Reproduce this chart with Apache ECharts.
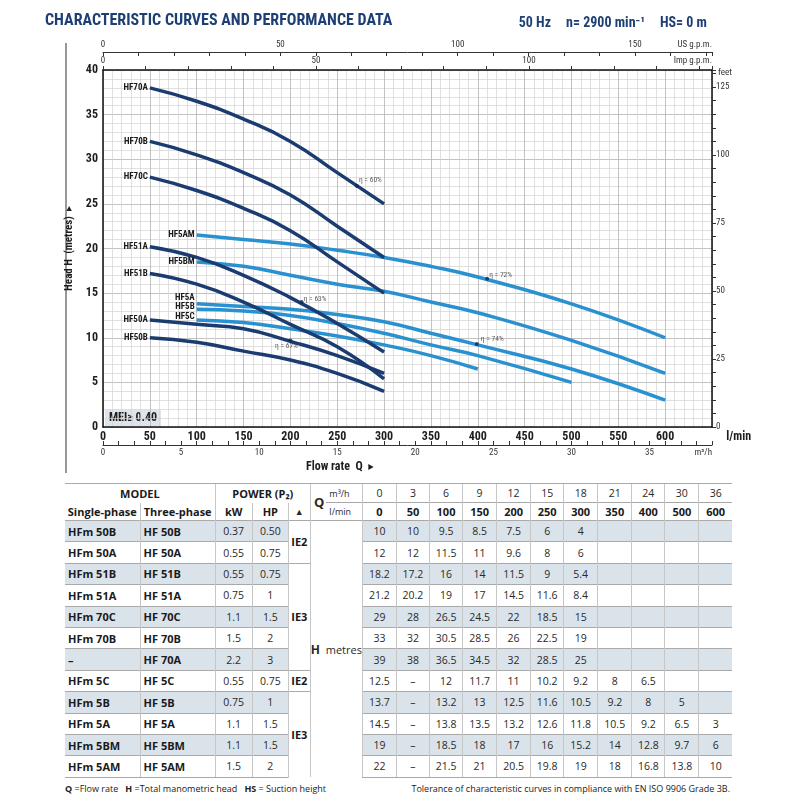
<!DOCTYPE html>
<html>
<head>
<meta charset="utf-8">
<script src="https://cdn.jsdelivr.net/npm/echarts@6/dist/echarts.min.js"></script>
<style>
  body { margin: 0; background: #fff; width: 800px; height: 800px; position: relative; overflow: hidden; font-family: 'Open Sans', sans-serif; }
  #chart { position: absolute; left: 0; top: 0; width: 800px; height: 480px; }
  #perf { position: absolute; left: 65px; top: 483px; width: 667px; border-collapse: collapse; table-layout: fixed; font-size: 10.5px; color: #2a2a2a; }
  #perf td { padding: 0; text-align: center; border-left: 1px solid #c6c6c6; border-top: 1.5px solid #a9a9a9; white-space: nowrap; overflow: hidden; }
  #perf td:first-child { border-left: none; }
  #perf tr.h1 { height: 19px; }
  #perf tr.h2 { height: 18px; }
  #perf tr.h2 td.nl { border-top: none; }
  #perf tr.d { height: 21.4px; }
  #perf tr.d td.m { text-align: left; padding-left: 3px; font-weight: bold; color: #1a1a1a; font-size: 11px; }
  #perf tr.sh td { background: #dbe3ea; }
  #perf tr.d:last-child td { border-bottom: 1.5px solid #a9a9a9; }
  #perf td.w { background: #fff !important; font-weight: bold; font-size: 11px; color: #1a1a1a; }
  #perf td.b { font-weight: bold; color: #1a1a1a; font-size: 11px; }
  #perf td.q { font-weight: bold; font-size: 13px; border-right: none; text-align: right; padding-right: 2px; }
  #perf td.u { font-size: 9px; text-align: left; padding-left: 3px; border-left: none; }
  #perf td.hm { background: #fff !important; font-size: 11px; }
  .foot { position: absolute; top: 782px; font-size: 9px; color: #222; }
</style>
</head>
<body>
<div id="chart"></div>
<table id="perf"></table>
<div class="foot" style="left:65px"><b>Q</b> =Flow rate &nbsp;&nbsp;<b>H</b> =Total manometric head &nbsp;&nbsp;<b>HS</b> = Suction height</div>
<div class="foot" style="right:70px">Tolerance of characteristic curves in compliance with EN ISO 9906 Grade 3B.</div>
<script>
// flow points of the table (and of the curves)
var flowM3h = [0, 3, 6, 9, 12, 15, 18, 21, 24, 30, 36];
var flowLmin = [0, 50, 100, 150, 200, 250, 300, 350, 400, 500, 600];

var curveNames = ['HF50B', 'HF50A', 'HF51B', 'HF51A', 'HF70C', 'HF70B', 'HF70A', 'HF5C', 'HF5B', 'HF5A', 'HF5BM', 'HF5AM'];
var singlePhase = ['HFm 50B', 'HFm 50A', 'HFm 51B', 'HFm 51A', 'HFm 70C', 'HFm 70B', '–', 'HFm 5C', 'HFm 5B', 'HFm 5A', 'HFm 5BM', 'HFm 5AM'];
var threePhase = ['HF 50B', 'HF 50A', 'HF 51B', 'HF 51A', 'HF 70C', 'HF 70B', 'HF 70A', 'HF 5C', 'HF 5B', 'HF 5A', 'HF 5BM', 'HF 5AM'];
var powerKW = ['0.37', '0.55', '0.55', '0.75', '1.1', '1.5', '2.2', '0.55', '0.75', '1.1', '1.1', '1.5'];
var powerHP = ['0.50', '0.75', '0.75', '1', '1.5', '2', '3', '0.75', '1', '1.5', '1.5', '2'];
var ieClass = ['IE2', 'IE3', 'IE2', 'IE3'];
var ieRows = [2, 5, 1, 4];

// head H (metres) at each flow, '–' = not available, null = empty cell
var headHF50B = [10, 10, 9.5, 8.5, 7.5, 6, 4, null, null, null, null];
var headHF50A = [12, 12, 11.5, 11, 9.6, 8, 6, null, null, null, null];
var headHF51B = [18.2, 17.2, 16, 14, 11.5, 9, 5.4, null, null, null, null];
var headHF51A = [21.2, 20.2, 19, 17, 14.5, 11.6, 8.4, null, null, null, null];
var headHF70C = [29, 28, 26.5, 24.5, 22, 18.5, 15, null, null, null, null];
var headHF70B = [33, 32, 30.5, 28.5, 26, 22.5, 19, null, null, null, null];
var headHF70A = [39, 38, 36.5, 34.5, 32, 28.5, 25, null, null, null, null];
var headHF5C = [12.5, '–', 12, 11.7, 11, 10.2, 9.2, 8, 6.5, null, null];
var headHF5B = [13.7, '–', 13.2, 13, 12.5, 11.6, 10.5, 9.2, 8, 5, null];
var headHF5A = [14.5, '–', 13.8, 13.5, 13.2, 12.6, 11.8, 10.5, 9.2, 6.5, 3];
var headHF5BM = [19, '–', 18.5, 18, 17, 16, 15.2, 14, 12.8, 9.7, 6];
var headHF5AM = [22, '–', 21.5, 21, 20.5, 19.8, 19, 18, 16.8, 13.8, 10];
var headRows = [headHF50B, headHF50A, headHF51B, headHF51A, headHF70C, headHF70B, headHF70A,
                headHF5C, headHF5B, headHF5A, headHF5BM, headHF5AM];

// efficiency marks
var effFlow = [271, 212, 200, 410, 399];
var effHead = [27.0, 14.0, 9.7, 16.6, 9.3];
var effText = ['η = 60%', 'η = 63%', 'η = 67%', 'η = 72%', 'η = 74%'];

var chartFont = "'Roboto Condensed','Liberation Sans Narrow','DejaVu Sans Condensed',Roboto,sans-serif";
var darkBlue = '#1b3c70';
var lightBlue = '#2a91d1';
var labelOffsets = { HF5A: [0, -6], HF5B: [0, -2], HF5C: [0, -3] };
var effLabel = [
  { position: 'right', offset: [-2, -6] },
  { position: 'right', offset: [-2, -3] },
  { position: 'bottom', offset: [-4, -2] },
  { position: 'right', offset: [-2, -4] },
  { position: 'right', offset: [0, -5] }
];

var series = [];
var order = [7, 8, 9, 10, 11, 0, 1, 2, 3, 4, 5, 6];   // light curves under the dark ones
order.forEach(function (i) {
  var pts = [];
  flowLmin.forEach(function (q, j) {
    var h = headRows[i][j];
    if (q >= 50 && typeof h === 'number') pts.push([q, h]);
  });
  var data = pts.map(function (p, k) {
    if (k > 0) return p;
    return {
      value: p,
      label: {
        show: true, position: 'left', distance: 2, offset: labelOffsets[curveNames[i]] || [0, 0],
        formatter: curveNames[i], fontSize: 9, fontWeight: 'bold', color: '#1b1b1b', fontFamily: chartFont
      }
    };
  });
  series.push({
    type: 'line', name: curveNames[i], data: data, smooth: 0.5,
    symbol: 'circle', symbolSize: 0, showSymbol: true,
    lineStyle: { width: 3.5, color: i < 7 ? darkBlue : lightBlue },
    itemStyle: { color: i < 7 ? darkBlue : lightBlue },
    label: { show: false }
  });
});

series.push({
  type: 'scatter', name: 'eff', z: 5, symbol: 'circle', symbolSize: 4,
  itemStyle: { color: '#0f2a55' },
  data: effFlow.map(function (q, k) {
    return {
      value: [q, effHead[k]],
      label: {
        show: true, position: effLabel[k].position, offset: effLabel[k].offset, distance: 2,
        formatter: effText[k], fontSize: 7.5, color: '#333', fontFamily: chartFont
      }
    };
  })
});

var smallAxisText = { fontSize: 9, color: '#333', fontFamily: chartFont };

var option = {
  animation: false,
  backgroundColor: '#fff',
  title: [
    { text: 'CHARACTERISTIC CURVES AND PERFORMANCE DATA', left: 40, top: 8,
      textStyle: { fontSize: 16, fontWeight: 'bold', color: '#1e3f74', fontFamily: chartFont } },
    { text: '{b|50 Hz}   {b|n= 2900 min⁻¹}   {r|HS= 0 m}', right: 88, top: 9,
      textStyle: { rich: {
        b: { fontSize: 14, fontWeight: 'bold', color: '#1e3f74', fontFamily: chartFont },
        r: { fontSize: 14, color: '#1e3f74', fontFamily: chartFont }
      } } }
  ],
  grid: { left: 103, top: 70, width: 609, height: 357, containLabel: false },
  xAxis: [
    { type: 'value', position: 'bottom', min: 0, max: 650, interval: 50,
      axisLine: { show: true, onZero: false, lineStyle: { color: '#111', width: 1.5 } },
      axisTick: { show: false },
      axisLabel: { fontSize: 12, fontWeight: 'bold', color: '#1d1d1d', margin: 4, fontFamily: chartFont,
        formatter: function (v) { return v <= 600 ? v : ''; } },
      splitLine: { show: true, lineStyle: { color: '#b4b4b4', width: 0.8 } },
      minorTick: { show: false, splitNumber: 5 },
      minorSplitLine: { show: true, lineStyle: { color: '#d2d2d2', width: 0.7 } },
      name: 'l/min', nameLocation: 'end', nameGap: 0,
      nameTextStyle: { align: 'right', verticalAlign: 'top', padding: [4, 0, 0, 0], fontSize: 12, fontWeight: 'bold', color: '#1d1d1d', fontFamily: chartFont } },
    { type: 'value', position: 'bottom', offset: 18, min: 0, max: 39, interval: 1,
      axisLine: { show: true, onZero: false, lineStyle: { color: '#333', width: 1 } },
      axisTick: { show: true, inside: true, length: 4, lineStyle: { color: '#333' } },
      axisLabel: Object.assign({ margin: 3, formatter: function (v) { return v % 5 === 0 ? v : ''; } }, smallAxisText),
      splitLine: { show: false },
      name: 'm³/h', nameLocation: 'end', nameGap: 0,
      nameTextStyle: Object.assign({ align: 'right', verticalAlign: 'top', padding: [3, 0, 0, 0] }, smallAxisText) },
    { type: 'value', position: 'top', offset: 18, min: 0, max: 650 / 3.78541, interval: 10,
      axisLine: { show: true, onZero: false, lineStyle: { color: '#333', width: 1 } },
      axisTick: { show: true, inside: true, length: 4, lineStyle: { color: '#333' } },
      axisLabel: Object.assign({ margin: 3, formatter: function (v) { return v % 50 === 0 ? v : ''; } }, smallAxisText),
      splitLine: { show: false },
      name: 'US g.p.m.', nameLocation: 'end', nameGap: 0,
      nameTextStyle: Object.assign({ align: 'right', verticalAlign: 'bottom', padding: [0, 0, 3, 0] }, smallAxisText) },
    { type: 'value', position: 'top', offset: 0, min: 0, max: 650 / 4.54609, interval: 10,
      axisLine: { show: true, onZero: false, lineStyle: { color: '#111', width: 1.5 } },
      axisTick: { show: true, inside: false, length: 4, lineStyle: { color: '#333' } },
      axisLabel: Object.assign({ margin: 5, formatter: function (v) { return v % 50 === 0 ? v : ''; } }, smallAxisText),
      splitLine: { show: false },
      name: 'Imp g.p.m.', nameLocation: 'end', nameGap: 0,
      nameTextStyle: Object.assign({ align: 'right', verticalAlign: 'bottom', padding: [0, 0, 5, 0] }, smallAxisText) }
  ],
  yAxis: [
    { type: 'value', position: 'left', min: 0, max: 40, interval: 5,
      axisLine: { show: true, onZero: false, lineStyle: { color: '#111', width: 1.5 } },
      axisTick: { show: false },
      axisLabel: { fontSize: 12, fontWeight: 'bold', color: '#1d1d1d', margin: 5, fontFamily: chartFont },
      splitLine: { show: true, lineStyle: { color: '#b4b4b4', width: 0.8 } },
      minorTick: { show: false, splitNumber: 5 },
      minorSplitLine: { show: true, lineStyle: { color: '#d2d2d2', width: 0.7 } },
      name: 'Head H  (metres)  ▸', nameLocation: 'middle', nameGap: 24,
      nameTextStyle: { fontSize: 11, fontWeight: 'bold', color: '#1d1d1d', fontFamily: chartFont } },
    { type: 'value', position: 'right', min: 0, max: 40 * 3.28084, interval: 5,
      axisLine: { show: true, onZero: false, lineStyle: { color: '#111', width: 1.5 } },
      axisTick: { show: true, inside: false, length: 4, lineStyle: { color: '#333' } },
      axisLabel: Object.assign({ margin: 4, formatter: function (v) { return v % 25 === 0 ? v : ''; } }, smallAxisText),
      splitLine: { show: false },
      name: 'feet', nameLocation: 'end', nameGap: -3,
      nameTextStyle: Object.assign({ align: 'left', verticalAlign: 'middle', padding: [0, 0, 0, 6] }, smallAxisText) }
  ],
  graphic: [
    { type: 'line', shape: { x1: 66, y1: 43, x2: 66, y2: 473 }, style: { stroke: '#333', lineWidth: 1 } },
    { type: 'rect', shape: { x: 105, y: 410, width: 56, height: 16 }, style: { fill: '#dde4eb' } },
    { type: 'text', x: 109, y: 412, style: { text: 'MEI≥ 0.40', fontSize: 12, fontWeight: 'bold', fill: '#1d1d1d', fontFamily: chartFont } },
    { type: 'text', x: 306, y: 461, style: { text: 'Flow rate  Q  ▸', fontSize: 12, fontWeight: 'bold', fill: '#1d1d1d', fontFamily: chartFont } }
  ],
  series: series
};

var myChart = echarts.init(document.getElementById('chart'));
myChart.setOption(option);

// performance table
var html = '<colgroup>';
[75, 75, 37, 36, 22, 16, 36, 34, 33, 33, 34, 34, 33, 34, 34, 33, 34, 33].forEach(function (w) {
  html += '<col style="width:' + w + 'px">';
});
html += '</colgroup>';
html += '<tr class="h1"><td colspan="2" class="b">MODEL</td><td colspan="3" class="b">POWER (P₂)</td>' +
  '<td rowspan="2" class="q">Q</td><td class="u">m³/h</td>';
flowM3h.forEach(function (v) { html += '<td>' + v + '</td>'; });
html += '</tr>';
html += '<tr class="h2"><td class="b nl">Single-phase</td><td class="b nl">Three-phase</td><td class="b nl">kW</td>' +
  '<td class="b nl">HP</td><td class="nl" style="font-size:9px">▲</td><td class="u" style="border-left:none">l/min</td>';
flowLmin.forEach(function (v) { html += '<td class="b">' + v + '</td>'; });
html += '</tr>';
var ieStart = {}, r0 = 0;
ieRows.forEach(function (n, k) { ieStart[r0] = k; r0 += n; });
singlePhase.forEach(function (name, i) {
  html += '<tr class="d' + (i % 2 === 0 ? ' sh' : '') + '">';
  html += '<td class="m">' + name + '</td><td class="m">' + threePhase[i] + '</td>';
  html += '<td>' + powerKW[i] + '</td><td>' + powerHP[i] + '</td>';
  if (ieStart[i] !== undefined) {
    var k = ieStart[i];
    html += '<td class="w" rowspan="' + ieRows[k] + '">' + ieClass[k] + '</td>';
  }
  if (i === 0) {
    html += '<td class="hm" colspan="2" rowspan="' + singlePhase.length + '"><b style="font-size:12px">H</b>&nbsp; metres</td>';
  }
  headRows[i].forEach(function (v) { html += '<td>' + (v === null ? '' : v) + '</td>'; });
  html += '</tr>';
});
document.getElementById('perf').innerHTML = html;
</script>
</body>
</html>
